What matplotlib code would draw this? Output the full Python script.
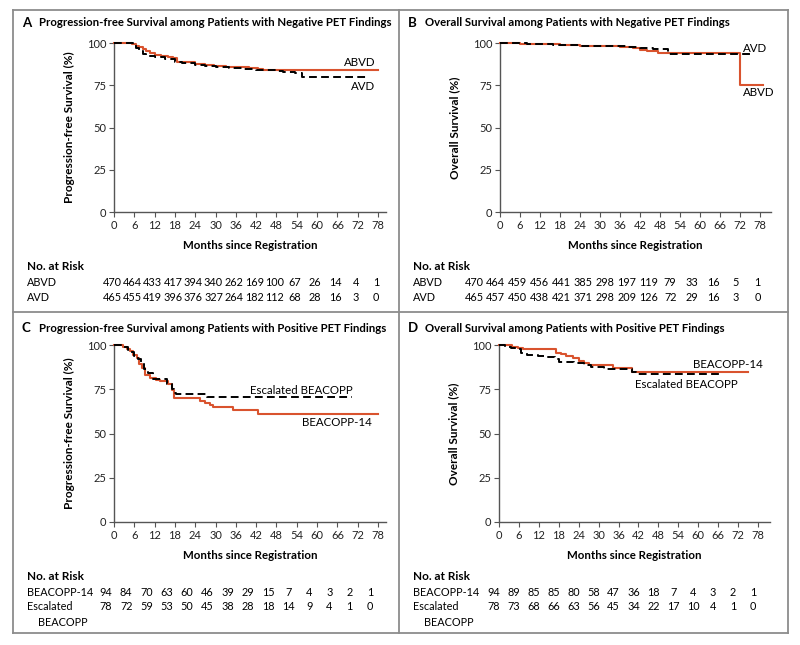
import matplotlib
matplotlib.use('Agg')
import matplotlib.pyplot as plt
import matplotlib.transforms as mtransforms
from matplotlib.lines import Line2D

plt.rcParams['font.family'] = ['Lato', 'DejaVu Sans']

# ---------------- data ----------------
risk_times = [0, 6, 12, 18, 24, 30, 36, 42, 48, 54, 60, 66, 72, 78]

# Panel A: progression-free survival, negative PET
a_abvd_t = [0, 5.2, 6.5, 7.5, 8.5, 9.5, 10.5, 12, 14, 16, 17.5, 18.5, 21, 24, 27, 29.5, 33, 40, 42.5, 44, 78]
a_abvd_s = [100, 99.5, 98.5, 97.5, 96.5, 95, 94, 93, 92.5, 92, 91, 89, 88.5, 87.5, 87, 86.2, 85.8, 85.2, 84.5, 84, 84]
a_avd_t = [0, 5.5, 6.5, 7.5, 8.5, 9.5, 12, 15, 18, 20, 24, 27, 30, 34, 38, 42, 48, 50, 53.5, 55.5, 75]
a_avd_s = [100, 99, 97, 95, 93.5, 92.5, 92, 90.5, 89, 88, 87, 86.5, 86, 85, 84.5, 84, 83.5, 83, 82, 80, 80]
a_risk_abvd = [470, 464, 433, 417, 394, 340, 262, 169, 100, 67, 26, 14, 4, 1]
a_risk_avd = [465, 455, 419, 396, 376, 327, 264, 182, 112, 68, 28, 16, 3, 0]

# Panel B: overall survival, negative PET
b_abvd_t = [0, 6, 12, 18, 24, 30, 36, 40, 42, 44, 47.5, 72, 79]
b_abvd_s = [100, 99.6, 99.2, 98.8, 98.5, 98, 97.5, 97, 96, 95.5, 94.2, 75.3, 75.3]
b_avd_t = [0, 8, 16, 24, 32, 38, 42, 46, 50.5, 75.5]
b_avd_s = [100, 99.6, 99, 98.5, 98, 97.5, 97, 96.3, 93.6, 93.6]
b_risk_abvd = [470, 464, 459, 456, 441, 385, 298, 197, 119, 79, 33, 16, 5, 1]
b_risk_avd = [465, 457, 450, 438, 421, 371, 298, 209, 126, 72, 29, 16, 3, 0]

# Panel C: progression-free survival, positive PET
c_b14_t = [0, 2.8, 3.8, 4.7, 5.7, 6.7, 7.5, 8.2, 9.2, 10.7, 12.5, 13.6, 16, 17, 17.7, 25.4, 27, 28.3, 29.3, 35.2, 42.5, 78]
c_b14_s = [100, 98.9, 97.8, 96.7, 94.5, 92.5, 89, 86.9, 83, 81.5, 80, 79.4, 78, 74.6, 70, 68.5, 67.5, 66, 65, 63.3, 61, 61]
c_esc_t = [0, 3, 4, 5, 6, 7, 8, 9, 10, 11.5, 15.8, 17, 17.7, 18.3, 27.4, 70.2]
c_esc_s = [100, 98.7, 97.4, 96, 94, 92, 89.6, 86.5, 84, 80.6, 78, 75, 73, 72.5, 70.4, 70.4]
c_risk_b14 = [94, 84, 70, 63, 60, 46, 39, 29, 15, 7, 4, 3, 2, 1]
c_risk_esc = [78, 72, 59, 53, 50, 45, 38, 28, 18, 14, 9, 4, 1, 0]

# Panel D: overall survival, positive PET
d_b14_t = [0, 3.8, 5.8, 7.3, 17.2, 18.7, 20.2, 22.2, 24.2, 25.7, 27.2, 34.2, 40.2, 75]
d_b14_s = [100, 99, 98.1, 97.5, 95.7, 95, 93.8, 92.5, 91, 90, 88.7, 86.8, 85, 85]
d_esc_t = [0, 1.8, 3.5, 5, 6.5, 8.5, 11.6, 14.5, 17, 18.2, 22.6, 25.7, 27.7, 31.7, 40.2, 41.2, 67.5]
d_esc_s = [100, 99, 98.2, 97.5, 95.7, 94.4, 93.8, 93, 92, 90.6, 89.6, 88.5, 87.8, 86.3, 85, 83.4, 83.4]
d_risk_b14 = [94, 89, 85, 85, 80, 58, 47, 36, 18, 7, 4, 3, 2, 1]
d_risk_esc = [78, 73, 68, 66, 63, 56, 45, 34, 22, 17, 10, 4, 1, 0]

# ---------------- style ----------------
RED = '#d9532e'
AXC = '#555555'
W, H = 800, 645

fig = plt.figure(figsize=(W / 100, H / 100), dpi=100)


def fx(px):
    return px / W


def fy(py):
    return 1 - py / H


def make_axes(left, right, top, bottom, x78):
    ax = fig.add_axes([fx(left), fy(bottom), (right - left) / W, (bottom - top) / H])
    xmax = 78 * (right - left) / (x78 - left)
    ax.set_xlim(0, xmax)
    ax.set_ylim(0, 100)
    ax.set_xticks(risk_times)
    ax.set_yticks([0, 25, 50, 75, 100])
    for s in ['top', 'right']:
        ax.spines[s].set_visible(False)
    for s in ['left', 'bottom']:
        ax.spines[s].set_color(AXC)
        ax.spines[s].set_linewidth(1.0)
    ax.tick_params(direction='out', length=3.5, width=0.8, color=AXC,
                   labelsize=8, pad=2, labelcolor='#222222')
    ax.set_xlabel('Months since Registration', fontweight='bold', fontsize=8.3)
    ax.xaxis.set_label_coords(0.5, -28 / (bottom - top))
    return ax


def curve(ax, t, s, dashed=False):
    if dashed:
        ax.step(t, s, where='post', color='black', lw=1.4, ls=(0, (4, 2.2)), clip_on=False, zorder=3)
    else:
        ax.step(t, s, where='post', color=RED, lw=1.5, clip_on=False, zorder=2)


def title(x, y, letter, text):
    fig.text(fx(x), fy(y), letter, fontweight='bold', fontsize=9.5, va='center', ha='left')
    fig.text(fx(x + 17), fy(y), text, fontweight='bold', fontsize=8.2, va='center', ha='left')


def risk_row(ax, y, values, dx_px, fs=7.8, step_px=None, start_px=None):
    if step_px is None:
        trans = mtransforms.blended_transform_factory(ax.transData, fig.transFigure)
        off = mtransforms.offset_copy(trans, fig=fig, x=dx_px, y=0, units='dots')
        for t, v in zip(risk_times, values):
            ax.text(t, fy(y), str(v), transform=off, ha='center', va='center', fontsize=fs)
    else:
        for i, v in enumerate(values):
            fig.text(fx(start_px + i * step_px), fy(y), str(v), ha='center', va='center', fontsize=fs)


def label(x, y, text, ha='left', fs=8.3, bold=False):
    fig.text(fx(x), fy(y), text, ha=ha, va='center', fontsize=fs,
             fontweight='bold' if bold else 'normal')


# ---------------- panel A ----------------
axA = make_axes(114, 386, 43, 212, 378)
curve(axA, a_abvd_t, a_abvd_s)
curve(axA, a_avd_t, a_avd_s, dashed=True)
axA.set_ylabel('Progression-free Survival (%)', fontweight='bold', fontsize=8.5)
axA.yaxis.set_label_coords(-39 / 272, 0.5)
title(22, 23, 'A', 'Progression-free Survival among Patients with Negative PET Findings')
label(375, 63, 'ABVD', ha='right')
label(375, 86, 'AVD', ha='right')
label(27, 267, 'No. at Risk', fs=8.5, bold=True)
label(27, 282, 'ABVD', fs=7.8)
label(27, 297, 'AVD', fs=7.8)
risk_row(axA, 282, a_risk_abvd, -2)
risk_row(axA, 297, a_risk_avd, -2)

# ---------------- panel B ----------------
axB = make_axes(500, 771, 43, 212, 760)
curve(axB, b_abvd_t, b_abvd_s)
curve(axB, b_avd_t, b_avd_s, dashed=True)
axB.set_ylabel('Overall Survival (%)', fontweight='bold', fontsize=8.5)
axB.yaxis.set_label_coords(-40 / 271, 0.5)
title(408, 23, 'B', 'Overall Survival among Patients with Negative PET Findings')
label(743, 48, 'AVD')
label(743, 92, 'ABVD')
label(413, 267, 'No. at Risk', fs=8.5, bold=True)
label(413, 282, 'ABVD', fs=7.8)
label(413, 297, 'AVD', fs=7.8)
risk_row(axB, 282, b_risk_abvd, 0, step_px=21.8, start_px=474)
risk_row(axB, 297, b_risk_avd, 0, step_px=21.8, start_px=474)

# ---------------- panel C ----------------
axC = make_axes(114, 386, 345, 522, 378)
curve(axC, c_b14_t, c_b14_s)
curve(axC, c_esc_t, c_esc_s, dashed=True)
axC.set_ylabel('Progression-free Survival (%)', fontweight='bold', fontsize=8.5)
axC.yaxis.set_label_coords(-39 / 272, 0.5)
title(22, 328, 'C', 'Progression-free Survival among Patients with Positive PET Findings')
label(353, 390, 'Escalated BEACOPP', ha='right')
label(372, 423, 'BEACOPP-14', ha='right')
label(27, 577, 'No. at Risk', fs=8.5, bold=True)
label(27, 592, 'BEACOPP-14', fs=7.8)
label(27, 607, 'Escalated', fs=7.8)
label(38, 623, 'BEACOPP', fs=7.8)
risk_row(axC, 592, c_risk_b14, -8)
risk_row(axC, 607, c_risk_esc, -8)

# ---------------- panel D ----------------
axD = make_axes(499, 770, 345, 522, 758)
curve(axD, d_b14_t, d_b14_s)
curve(axD, d_esc_t, d_esc_s, dashed=True)
axD.set_ylabel('Overall Survival (%)', fontweight='bold', fontsize=8.5)
axD.yaxis.set_label_coords(-40 / 271, 0.5)
title(408, 328, 'D', 'Overall Survival among Patients with Positive PET Findings')
label(763, 365, 'BEACOPP-14', ha='right')
label(738, 384, 'Escalated BEACOPP', ha='right')
label(413, 577, 'No. at Risk', fs=8.5, bold=True)
label(413, 592, 'BEACOPP-14', fs=7.8)
label(413, 607, 'Escalated', fs=7.8)
label(424, 623, 'BEACOPP', fs=7.8)
risk_row(axD, 592, d_risk_b14, -5)
risk_row(axD, 607, d_risk_esc, -5)

# ---------------- frame ----------------
FC = '#8c8c8c'
frame = [((13, 10), (788, 10)), ((788, 10), (788, 633)), ((788, 633), (13, 633)),
         ((13, 633), (13, 10)), ((399, 10), (399, 633)), ((13, 312), (788, 312))]
for (x0, y0), (x1, y1) in frame:
    fig.add_artist(Line2D([fx(x0), fx(x1)], [fy(y0), fy(y1)], color=FC, lw=1.3,
                          transform=fig.transFigure))

fig.savefig('out.png', dpi=100)
